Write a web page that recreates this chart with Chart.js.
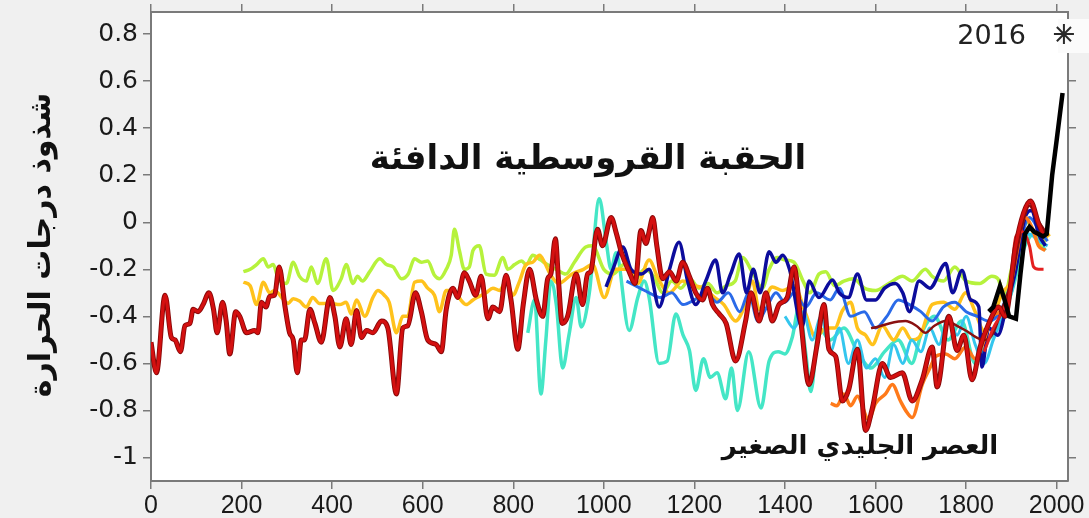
<!DOCTYPE html>
<html lang="ar">
<head>
  <meta charset="UTF-8" />
  <title>شذوذ درجات الحرارة</title>
  <script src="https://cdn.jsdelivr.net/npm/chart.js@4.4.1/dist/chart.umd.min.js"></script>
  <style>
    html, body { margin: 0; background: #f0f0f0; }
    canvas { display: block; }
  </style>
</head>
<body>
  <canvas id="myChart" width="1089" height="518"></canvas>

  <script>
    // [year, anomaly] pairs
    const darkRed = [[0,-0.51],[12,-0.64],[31,-0.31],[45,-0.49],[53,-0.50],[65,-0.55],[75,-0.44],[86,-0.43],[93,-0.37],[104,-0.38],[115,-0.35],[128,-0.30],[138,-0.37],[146,-0.47],[158,-0.34],[166,-0.42],[174,-0.56],[187,-0.38],[196,-0.40],[211,-0.47],[229,-0.46],[236,-0.47],[244,-0.34],[254,-0.36],[262,-0.315],[273,-0.31],[283,-0.19],[296,-0.36],[306,-0.47],[314,-0.50],[323,-0.64],[332,-0.50],[339,-0.50],[351,-0.37],[362,-0.43],[376,-0.51],[395,-0.32],[406,-0.40],[417,-0.53],[431,-0.41],[442,-0.52],[454,-0.375],[465,-0.49],[476,-0.46],[490,-0.47],[509,-0.42],[523,-0.45],[542,-0.73],[556,-0.45],[567,-0.44],[584,-0.30],[597,-0.38],[611,-0.50],[630,-0.52],[641,-0.55],[652,-0.37],[667,-0.28],[677,-0.32],[692,-0.215],[703,-0.25],[717,-0.31],[729,-0.23],[744,-0.41],[755,-0.36],[770,-0.38],[784,-0.225],[795,-0.33],[810,-0.54],[822,-0.35],[836,-0.20],[851,-0.33],[865,-0.40],[876,-0.24],[883,-0.22],[893,-0.07],[900,-0.25],[908,-0.43],[920,-0.40],[939,-0.22],[953,-0.35],[964,-0.22],[971,-0.21],[986,-0.03],[997,-0.10],[1016,0.02],[1028,-0.05],[1039,-0.13],[1056,-0.21],[1069,-0.26],[1082,-0.035],[1093,-0.09],[1100,-0.04],[1108,0.02],[1117,-0.10],[1130,-0.24],[1145,-0.21],[1160,-0.25],[1174,-0.17],[1189,-0.23],[1203,-0.30],[1218,-0.33],[1229,-0.28],[1240,-0.35],[1255,-0.39],[1270,-0.43],[1291,-0.59],[1313,-0.42],[1325,-0.30],[1343,-0.42],[1358,-0.30],[1372,-0.42],[1387,-0.35],[1405,-0.32],[1420,-0.19],[1435,-0.42],[1453,-0.69],[1471,-0.52],[1486,-0.35],[1497,-0.54],[1512,-0.57],[1527,-0.76],[1541,-0.71],[1560,-0.54],[1578,-0.885],[1593,-0.79],[1615,-0.60],[1633,-0.66],[1659,-0.64],[1681,-0.76],[1703,-0.67],[1725,-0.53],[1736,-0.70],[1762,-0.40],[1780,-0.545],[1795,-0.48],[1813,-0.67],[1831,-0.53],[1850,-0.43],[1872,-0.36],[1886,-0.40],[1909,-0.105],[1927,0.04],[1942,0.09],[1960,-0.005],[1971,-0.055]];

    const lime = [[204,-0.21],[219,-0.20],[233,-0.18],[248,-0.155],[259,-0.19],[270,-0.18],[281,-0.24],[299,-0.26],[314,-0.17],[328,-0.23],[343,-0.25],[354,-0.19],[368,-0.26],[387,-0.155],[402,-0.29],[420,-0.24],[431,-0.18],[446,-0.26],[456,-0.23],[467,-0.25],[483,-0.21],[505,-0.155],[520,-0.18],[535,-0.19],[553,-0.24],[568,-0.22],[582,-0.155],[597,-0.17],[611,-0.165],[626,-0.225],[637,-0.24],[652,-0.20],[663,-0.14],[670,-0.03],[681,-0.12],[692,-0.20],[703,-0.19],[711,-0.12],[725,-0.10],[740,-0.22],[758,-0.225],[777,-0.15],[788,-0.20],[803,-0.18],[818,-0.165],[829,-0.18],[843,-0.14],[860,-0.16],[875,-0.18],[895,-0.20],[916,-0.22],[935,-0.17],[960,-0.105],[975,-0.10],[1000,-0.20],[1020,-0.22],[1045,-0.18],[1070,-0.24],[1090,-0.20],[1110,-0.23],[1130,-0.30],[1150,-0.25],[1170,-0.28],[1190,-0.24],[1210,-0.28],[1230,-0.26],[1250,-0.30],[1270,-0.27],[1290,-0.25],[1306,-0.15],[1330,-0.22],[1350,-0.28],[1365,-0.20],[1383,-0.15],[1400,-0.16],[1420,-0.17],[1440,-0.25],[1455,-0.30],[1475,-0.22],[1490,-0.21],[1510,-0.27],[1530,-0.25],[1552,-0.24],[1575,-0.28],[1600,-0.29],[1630,-0.26],[1660,-0.23],[1680,-0.25],[1710,-0.20],[1725,-0.23],[1750,-0.25],[1775,-0.19],[1800,-0.25],[1830,-0.26],[1857,-0.23],[1870,-0.24],[1885,-0.31],[1900,-0.20],[1920,-0.05],[1935,0.0],[1950,-0.05],[1965,-0.10],[1980,-0.05]];

    const gold = [[204,-0.255],[219,-0.27],[233,-0.35],[248,-0.255],[262,-0.30],[273,-0.29],[293,-0.33],[303,-0.345],[314,-0.325],[328,-0.335],[343,-0.36],[357,-0.32],[372,-0.345],[395,-0.345],[417,-0.35],[431,-0.34],[442,-0.39],[454,-0.33],[472,-0.40],[490,-0.32],[501,-0.29],[515,-0.31],[526,-0.34],[542,-0.47],[556,-0.40],[567,-0.40],[582,-0.255],[597,-0.25],[611,-0.28],[626,-0.31],[637,-0.38],[652,-0.29],[670,-0.29],[684,-0.33],[696,-0.35],[711,-0.33],[725,-0.315],[740,-0.30],[755,-0.28],[770,-0.29],[784,-0.25],[799,-0.31],[814,-0.25],[828,-0.18],[843,-0.17],[858,-0.14],[869,-0.17],[880,-0.215],[900,-0.26],[930,-0.22],[955,-0.20],[975,-0.18],[1001,-0.32],[1025,-0.20],[1056,-0.20],[1075,-0.26],[1100,-0.16],[1120,-0.24],[1144,-0.30],[1174,-0.25],[1200,-0.27],[1220,-0.28],[1245,-0.32],[1265,-0.35],[1291,-0.42],[1310,-0.36],[1328,-0.25],[1343,-0.37],[1372,-0.275],[1395,-0.29],[1420,-0.27],[1446,-0.39],[1468,-0.49],[1490,-0.45],[1510,-0.45],[1527,-0.375],[1545,-0.34],[1560,-0.45],[1578,-0.48],[1593,-0.52],[1615,-0.44],[1640,-0.50],[1660,-0.45],[1680,-0.50],[1696,-0.49],[1725,-0.35],[1750,-0.34],[1775,-0.37],[1799,-0.30],[1820,-0.38],[1839,-0.46],[1860,-0.40],[1880,-0.30],[1900,-0.25],[1920,-0.10],[1940,-0.02],[1960,-0.08],[1985,-0.05]];

    const turquoise = [[832,-0.47],[847,-0.33],[861,-0.73],[872,-0.50],[883,-0.25],[895,-0.35],[909,-0.62],[923,-0.48],[939,-0.32],[950,-0.445],[968,-0.30],[990,0.10],[1005,-0.08],[1016,-0.20],[1027,-0.13],[1056,-0.46],[1075,-0.32],[1089,-0.25],[1100,-0.32],[1122,-0.60],[1140,-0.59],[1159,-0.39],[1175,-0.48],[1189,-0.545],[1203,-0.715],[1220,-0.58],[1235,-0.66],[1250,-0.64],[1269,-0.75],[1282,-0.62],[1295,-0.80],[1320,-0.55],[1347,-0.79],[1365,-0.59],[1385,-0.55],[1400,-0.56],[1416,-0.49],[1431,-0.36],[1446,-0.56],[1457,-0.72],[1475,-0.45],[1500,-0.50],[1530,-0.45],[1560,-0.55],[1590,-0.62],[1620,-0.55],[1650,-0.50],[1680,-0.60],[1700,-0.48],[1730,-0.40],[1760,-0.50],[1790,-0.42],[1820,-0.60],[1850,-0.50],[1880,-0.42],[1900,-0.30],[1930,-0.10],[1950,-0.05],[1975,-0.12]];

    const darkBlue = [[1005,-0.275],[1020,-0.20],[1042,-0.105],[1060,-0.20],[1083,-0.22],[1100,-0.20],[1122,-0.36],[1145,-0.20],[1166,-0.085],[1185,-0.25],[1203,-0.35],[1225,-0.25],[1247,-0.16],[1262,-0.30],[1280,-0.22],[1299,-0.135],[1315,-0.30],[1330,-0.20],[1345,-0.30],[1365,-0.125],[1380,-0.17],[1395,-0.14],[1410,-0.20],[1438,-0.445],[1453,-0.25],[1475,-0.32],[1505,-0.245],[1520,-0.30],[1540,-0.32],[1560,-0.22],[1580,-0.33],[1600,-0.33],[1620,-0.28],[1644,-0.26],[1660,-0.30],[1675,-0.38],[1696,-0.25],[1720,-0.28],[1755,-0.175],[1770,-0.30],[1791,-0.205],[1810,-0.33],[1828,-0.36],[1835,-0.615],[1850,-0.45],[1870,-0.48],[1890,-0.35],[1910,-0.20],[1930,0.02],[1945,0.05],[1960,-0.05],[1975,-0.10]];

    const midBlue = [[1050,-0.25],[1080,-0.28],[1100,-0.30],[1125,-0.32],[1150,-0.30],[1175,-0.35],[1200,-0.33],[1225,-0.30],[1250,-0.34],[1275,-0.30],[1300,-0.38],[1320,-0.30],[1340,-0.42],[1360,-0.36],[1380,-0.30],[1400,-0.34],[1420,-0.30],[1446,-0.36],[1470,-0.30],[1500,-0.33],[1520,-0.28],[1545,-0.40],[1575,-0.38],[1600,-0.45],[1625,-0.40],[1650,-0.33],[1675,-0.35],[1700,-0.38],[1725,-0.42],[1750,-0.36],[1775,-0.34],[1800,-0.38],[1825,-0.40],[1850,-0.42],[1875,-0.38],[1900,-0.25],[1920,-0.08],[1940,0.02],[1960,-0.03],[1980,-0.08]];

    const cyan = [[1400,-0.40],[1420,-0.45],[1440,-0.38],[1460,-0.50],[1480,-0.40],[1500,-0.55],[1520,-0.45],[1540,-0.60],[1560,-0.50],[1580,-0.62],[1600,-0.58],[1620,-0.66],[1640,-0.52],[1660,-0.60],[1680,-0.50],[1700,-0.55],[1720,-0.45],[1740,-0.52],[1760,-0.40],[1780,-0.48],[1800,-0.40],[1820,-0.52],[1840,-0.60],[1860,-0.50],[1880,-0.40],[1900,-0.30],[1920,-0.10],[1940,-0.05],[1960,-0.08],[1980,-0.10]];

    const orange = [[1501,-0.77],[1515,-0.78],[1530,-0.73],[1545,-0.78],[1560,-0.74],[1585,-0.84],[1600,-0.77],[1622,-0.73],[1637,-0.69],[1655,-0.76],[1670,-0.81],[1681,-0.83],[1703,-0.69],[1720,-0.62],[1733,-0.57],[1755,-0.56],[1775,-0.58],[1799,-0.53],[1820,-0.58],[1840,-0.50],[1857,-0.40],[1875,-0.38],[1895,-0.30],[1910,-0.15],[1930,0.02],[1945,-0.02],[1960,-0.10],[1975,-0.12]];

    const brown = [[1590,-0.45],[1604,-0.445],[1630,-0.43],[1666,-0.42],[1690,-0.44],[1710,-0.47],[1730,-0.44],[1755,-0.42],[1780,-0.44],[1799,-0.46],[1828,-0.495],[1842,-0.50],[1860,-0.47],[1879,-0.37],[1900,-0.25],[1920,-0.05],[1940,0.07],[1955,0.02],[1975,-0.04]];

    const thinRed = [[1840,-0.55],[1860,-0.45],[1880,-0.38],[1895,-0.30],[1910,-0.06],[1925,-0.04],[1940,-0.10],[1949,-0.19],[1960,-0.20],[1971,-0.20]];

    const instrumental = [[1850,-0.38],[1860,-0.36],[1875,-0.27],[1885,-0.33],[1895,-0.40],[1910,-0.41],[1920,-0.22],[1930,-0.05],[1940,-0.02],[1950,-0.04],[1960,-0.05],[1970,-0.06],[1978,-0.05],[1990,0.2],[2000,0.35],[2013,0.55]];

    const record2016 = [[2016, 0.8]];

    const xTicks = [0, 200, 400, 600, 800, 1000, 1200, 1400, 1600, 1800, 2000];
    const yTicks = [-1, -0.8, -0.6, -0.4, -0.2, 0, 0.2, 0.4, 0.6, 0.8];

    const yTitle = 'شذوذ درجات الحرارة';
    const warmLabel = 'الحقبة القروسطية الدافئة';
    const iceLabel = 'العصر الجليدي الصغير';

    const pts = arr => arr.map(([x, y]) => ({ x, y }));

    function line(data, color, width, extra) {
      return Object.assign({
        data: pts(data),
        borderColor: color,
        borderWidth: width,
        pointRadius: 0,
        fill: false,
        cubicInterpolationMode: 'monotone'
      }, extra || {});
    }

    // page background, white plot area, texts
    const decorations = {
      id: 'decorations',
      beforeDraw(chart) {
        const { ctx, chartArea: a } = chart;
        ctx.save();
        ctx.fillStyle = '#f0f0f0';
        ctx.fillRect(0, 0, chart.width, chart.height);
        ctx.fillStyle = '#ffffff';
        ctx.fillRect(a.left, a.top, a.right - a.left, a.bottom - a.top);
        ctx.restore();
      },
      beforeDatasetsDraw(chart) {
        const ctx = chart.ctx;
        ctx.save();
        ctx.fillStyle = '#fbfbfb';
        ctx.fillRect(1058, 19, 31, 34);
        ctx.restore();
      },
      afterDatasetsDraw(chart) {
        const ctx = chart.ctx;
        ctx.save();
        ctx.fillStyle = '#111';
        ctx.textAlign = 'center';
        ctx.textBaseline = 'middle';
        ctx.font = 'bold 34px "DejaVu Sans"';
        ctx.fillText(warmLabel, 588, 160);
        ctx.font = 'bold 26px "DejaVu Sans"';
        ctx.fillText(iceLabel, 860, 447);
        ctx.font = '27px "DejaVu Sans"';
        ctx.textAlign = 'right';
        ctx.fillStyle = '#222';
        ctx.fillText('2016', 1026, 37);
        // y axis title
        ctx.translate(42, 245);
        ctx.rotate(-Math.PI / 2);
        ctx.textAlign = 'center';
        ctx.fillStyle = '#111';
        ctx.font = 'bold 30px "DejaVu Sans"';
        ctx.fillText(yTitle, 0, 0);
        ctx.restore();
      }
    };

    const frameGrid = { drawOnChartArea: false, drawTicks: true, tickLength: 8, color: '#7a7a7a', lineWidth: 1.5 };
    const frameBorder = { color: '#7a7a7a', width: 2 };

    // fixed box sizes so the plot area sits where it does in the picture
    function fixSize(w, h) {
      return s => {
        if (w !== null) s.width = w;
        if (h !== null) s.height = h;
        s.paddingTop = 0; s.paddingBottom = 0;
        s.paddingLeft = 0; s.paddingRight = 0;
      };
    }

    const ctx = document.getElementById('myChart').getContext('2d');
    const myChart = new Chart(ctx, {
      type: 'line',
      data: {
        datasets: [
          line(record2016, '#2a2a2a', 2, { showLine: false, pointRadius: 10, pointStyle: 'star', clip: false }),
          line(instrumental, '#000000', 4.5, { tension: 0, cubicInterpolationMode: 'default' }),
          line(darkRed, '#d41010', 3.2),
          line(darkRed, '#8a0808', 5),
          line(thinRed, '#e42020', 3),
          line(brown, '#8a1010', 2.5),
          line(orange, '#ff7a1a', 3.5),
          line(darkBlue, '#0c0c9c', 3.5),
          line(midBlue, '#2a6ae8', 3),
          line(cyan, '#34c6ee', 3),
          line(gold, '#ffc21c', 3.5),
          line(lime, '#b6f23c', 3.5),
          line(turquoise, '#44e6c6', 3.5)
        ]
      },
      options: {
        responsive: false,
        animation: false,
        events: [],
        layout: { padding: 0 },
        plugins: { legend: { display: false }, tooltip: { enabled: false } },
        scales: {
          x: {
            type: 'linear', position: 'bottom', min: 0, max: 2025,
            afterFit: fixSize(null, 37),
            afterBuildTicks: s => { s.ticks = xTicks.map(v => ({ value: v })); },
            grid: frameGrid, border: frameBorder,
            ticks: { padding: 2, color: '#1a1a1a', font: { family: 'Liberation Sans', size: 25 }, callback: v => String(v) }
          },
          xTop: {
            type: 'linear', position: 'top', min: 0, max: 2025,
            afterFit: fixSize(null, 12),
            afterBuildTicks: s => { s.ticks = xTicks.map(v => ({ value: v })); },
            grid: frameGrid, border: frameBorder,
            ticks: { display: false }
          },
          y: {
            type: 'linear', position: 'left', min: -1.1, max: 0.894,
            afterFit: fixSize(151, null),
            afterBuildTicks: s => { s.ticks = yTicks.map(v => ({ value: v })); },
            grid: frameGrid, border: frameBorder,
            ticks: { padding: 5, color: '#1a1a1a', font: { family: 'DejaVu Sans', size: 25 }, callback: v => String(Math.round(v * 10) / 10) }
          },
          yRight: {
            type: 'linear', position: 'right', min: -1.1, max: 0.894,
            afterFit: fixSize(21, null),
            afterBuildTicks: s => { s.ticks = yTicks.map(v => ({ value: v })); },
            grid: frameGrid, border: frameBorder,
            ticks: { display: false }
          }
        }
      },
      plugins: [decorations]
    });
  </script>
</body>
</html>
